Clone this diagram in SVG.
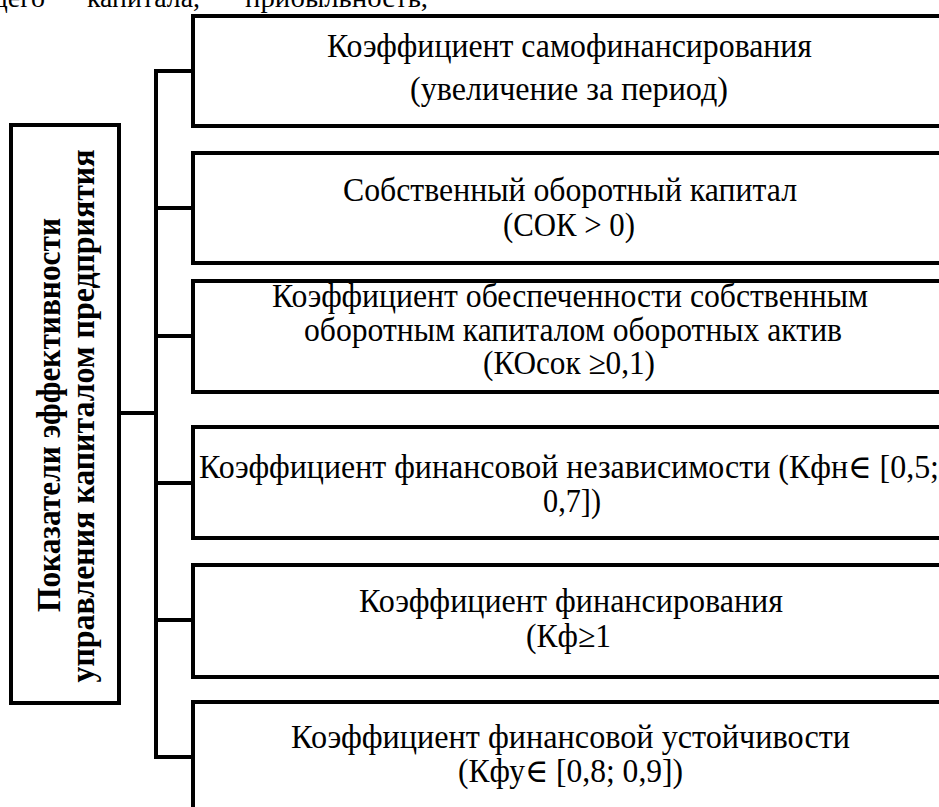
<svg xmlns="http://www.w3.org/2000/svg" width="939" height="807" viewBox="0 0 939 807">
<style>
.box{fill:#fff;stroke:#000;stroke-width:4}
.con{fill:none;stroke:#000;stroke-width:4;stroke-linecap:square}
.t{font-family:"Liberation Serif","DejaVu Serif",serif;font-size:33px;fill:#000}
.top{font-family:"Liberation Serif","DejaVu Serif",serif;font-size:28px;fill:#000}
.v{font-family:"Liberation Serif","DejaVu Serif",serif;font-size:33px;font-weight:bold;fill:#000}
</style>
<rect width="939" height="807" fill="#fff"/>
<g id="page-text">
<text class="top" x="45" y="7" text-anchor="end">щего</text>
<text class="top" x="87" y="7" textLength="113" lengthAdjust="spacingAndGlyphs">капитала,</text>
<text class="top" x="245" y="7" textLength="183" lengthAdjust="spacingAndGlyphs">прибыльность,</text>
</g>
<g id="connectors">
<path class="con" d="M156,71 V757"/>
<path class="con" d="M156,71 H193"/>
<path class="con" d="M156,208 H193"/>
<path class="con" d="M156,336 H193"/>
<path class="con" d="M119,413 H156"/>
<path class="con" d="M156,483 H193"/>
<path class="con" d="M156,620 H193"/>
<path class="con" d="M156,757 H193"/>
</g>
<g id="root">
<rect class="box" x="11" y="125" width="108" height="578"/>
<text class="v" transform="translate(60,415) rotate(-90)" text-anchor="middle" textLength="394" lengthAdjust="spacingAndGlyphs">Показатели  эффективности</text>
<text class="v" transform="translate(94,416) rotate(-90)" text-anchor="middle" textLength="533" lengthAdjust="spacingAndGlyphs">управления капиталом  предприятия</text>
</g>
<g id="n1">
<rect class="box" x="193" y="16" width="760" height="110"/>
<text class="t" x="327" y="57" textLength="485" lengthAdjust="spacingAndGlyphs">Коэффициент самофинансирования</text>
<text class="t" x="410" y="100" textLength="318" lengthAdjust="spacingAndGlyphs">(увеличение за период)</text>
</g>
<g id="n2">
<rect class="box" x="193" y="153" width="760" height="110"/>
<text class="t" x="343" y="201" textLength="454" lengthAdjust="spacingAndGlyphs">Собственный оборотный капитал</text>
<text class="t" x="503" y="236" textLength="132" lengthAdjust="spacingAndGlyphs">(СОК &gt; 0)</text>
</g>
<g id="n3">
<rect class="box" x="193" y="281" width="760" height="111"/>
<text class="t" x="272" y="307" textLength="596" lengthAdjust="spacingAndGlyphs">Коэффициент обеспеченности собственным</text>
<text class="t" x="304" y="341" textLength="538" lengthAdjust="spacingAndGlyphs">оборотным капиталом оборотных актив</text>
<text class="t" x="483" y="374" textLength="172" lengthAdjust="spacingAndGlyphs">(КОсок ≥0,1)</text>
</g>
<g id="n4">
<rect class="box" x="193" y="427" width="760" height="111"/>
<text class="t" x="199" y="478" textLength="740" lengthAdjust="spacingAndGlyphs">Коэффициент финансовой независимости (Кфн∈ [0,5;</text>
<text class="t" x="543" y="512" textLength="58" lengthAdjust="spacingAndGlyphs">0,7])</text>
</g>
<g id="n5">
<rect class="box" x="193" y="565" width="760" height="112"/>
<text class="t" x="359" y="612" textLength="424" lengthAdjust="spacingAndGlyphs">Коэффициент финансирования</text>
<text class="t" x="526" y="647" textLength="85" lengthAdjust="spacingAndGlyphs">(Кф≥1</text>
</g>
<g id="n6">
<rect class="box" x="193" y="702" width="760" height="120"/>
<text class="t" x="291" y="748" textLength="559" lengthAdjust="spacingAndGlyphs">Коэффициент финансовой устойчивости</text>
<text class="t" x="458" y="782" textLength="225" lengthAdjust="spacingAndGlyphs">(Кфу∈ [0,8; 0,9])</text>
</g>
</svg>
